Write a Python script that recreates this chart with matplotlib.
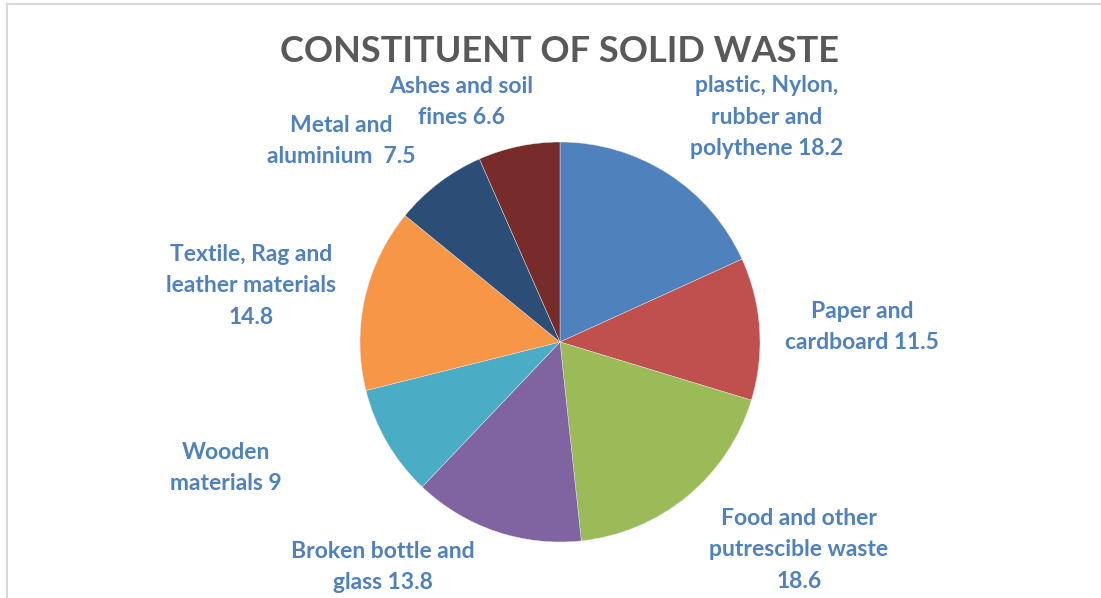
import matplotlib.pyplot as plt
from matplotlib.lines import Line2D

# Data
categories = ['plastic, Nylon,\nrubber and\npolythene', 'Paper and\ncardboard', 'Food and other\nputrescible waste\n',
              'Broken bottle and\nglass', 'Wooden\nmaterials', 'Textile, Rag and\nleather materials\n',
              'Metal and\naluminium ', 'Ashes and soil\nfines']
values = [18.2, 11.5, 18.6, 13.8, 9, 14.8, 7.5, 6.6]
colors = ['#4F81BD', '#C0504D', '#9BBB59', '#8064A2', '#4BACC6', '#F79646', '#2C4D75', '#772C2A']

# label centres (pie radius = 1)
label_pos = [(1.035, 1.125), (1.51, 0.075), (1.195, -1.04), (-0.885, -1.125),
             (-1.67, -0.63), (-1.545, 0.28), (-1.095, 1.005), (-0.495, 1.2)]

plt.rcParams['font.family'] = ['Lato', 'DejaVu Sans']

fig = plt.figure(figsize=(11.01, 5.98), dpi=100)
ax = fig.add_axes([0, 0, 1, 1])

ax.pie(values, colors=colors, startangle=90, counterclock=False, radius=1,
       wedgeprops=dict(edgecolor='#E8E8E8', linewidth=0.3))

for cat, val, (x, y) in zip(categories, values, label_pos):
    sep = '' if cat.endswith('\n') else ' '
    ax.text(x, y, f'{cat}{sep}{val:g}', ha='center', va='center', fontsize=16.5,
            fontweight='bold', color='#4F81BD', linespacing=1.6)

fig.text(560 / 1101, 1 - 52 / 598, 'CONSTITUENT OF SOLID WASTE', fontsize=26,
         fontweight='bold', color='#595959', ha='center', va='center')

# 200 px per unit, centre at (560, 342) from top-left
ax.set_aspect('auto')
ax.set_xlim(-560 / 200, (1101 - 560) / 200)
ax.set_ylim(-(598 - 342) / 200, 342 / 200)
ax.axis('off')

# chart frame (only top and left edges visible)
fig.add_artist(Line2D([7 / 1101, 1], [1 - 4 / 598, 1 - 4 / 598], color='#D9D9D9', lw=1.5))
fig.add_artist(Line2D([7 / 1101, 7 / 1101], [0, 1 - 4 / 598], color='#D9D9D9', lw=1.5))

fig.savefig('out.png', dpi=100)
